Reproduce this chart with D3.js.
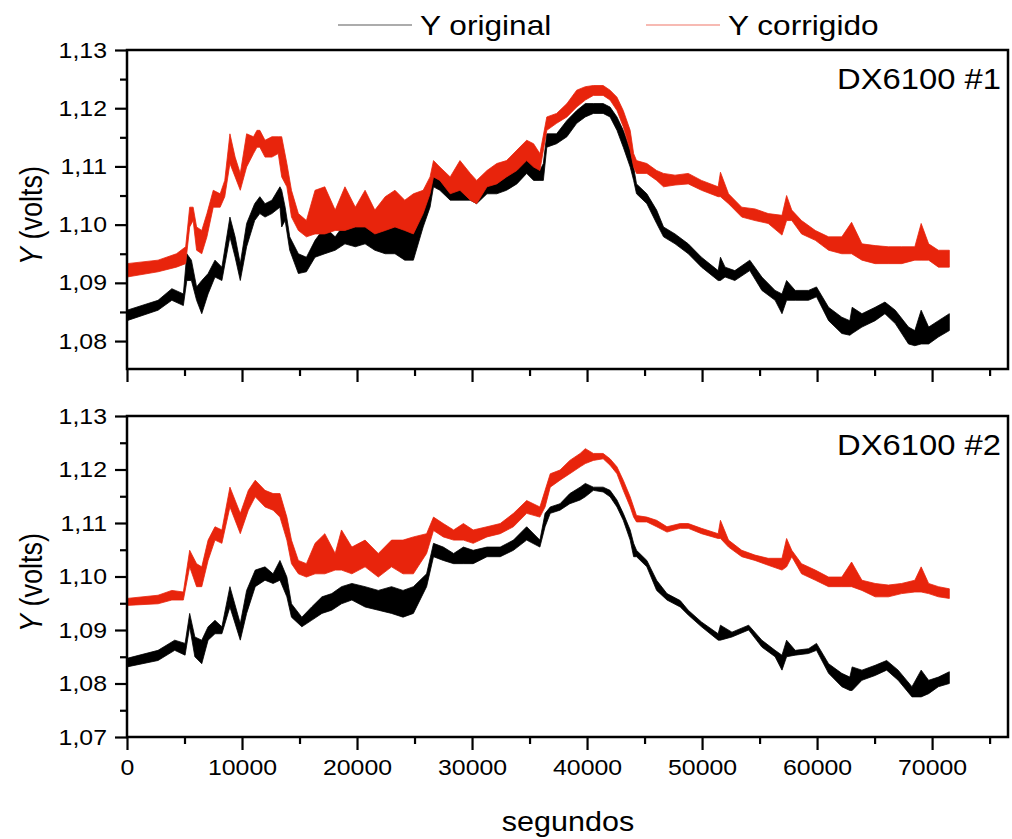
<!DOCTYPE html>
<html>
<head>
<meta charset="utf-8">
<script src="https://cdn.jsdelivr.net/npm/d3@7"></script>
<style>
  body { margin: 0; background: #fff; }
  svg text { font-family: "Liberation Sans", Arial, sans-serif; fill: #000; }
</style>
</head>
<body>
<script>
// envelope of each noisy trace: [segundos, lower Y, upper Y]
const orig1 = [[0,1.0835,1.0853],[2700,1.0853,1.0870],[3900,1.0870,1.0890],[4900,1.0861,1.0881],[5200,1.0904,1.0950],[5600,1.0904,1.0939],[6050,1.0870,1.0893],[6500,1.0847,1.0904],[7050,1.0881,1.0916],[7650,1.0910,1.0939],[8250,1.0904,1.0927],[8950,1.0979,1.1013],[9400,1.0944,1.0979],[9850,1.0904,1.0933],[10400,1.0962,1.1002],[11100,1.1007,1.1036],[11550,1.1019,1.1048],[12000,1.1013,1.1036],[12600,1.1019,1.1042],[13300,1.1030,1.1065],[13450,1.0996,1.1059],[13750,1.1007,1.1030],[14150,1.0956,1.0979],[14900,1.0916,1.0950],[15600,1.0919,1.0944],[16350,1.0944,1.0973],[17200,1.0950,1.0996],[18100,1.0956,1.0979],[18950,1.0967,1.1002],[19850,1.0962,1.0996],[20700,1.0967,1.1002],[21550,1.0956,1.0990],[22450,1.0950,1.0996],[23300,1.0950,1.1002],[24150,1.0939,1.0996],[24900,1.0939,1.1019],[25750,1.0996,1.1030],[26350,1.1030,1.1059],[26650,1.1065,1.1088],[27200,1.1059,1.1082],[28100,1.1042,1.1059],[28950,1.1042,1.1076],[29850,1.1042,1.1065],[30400,1.1036,1.1059],[31300,1.1053,1.1076],[32150,1.1053,1.1076],[33000,1.1059,1.1088],[33900,1.1070,1.1105],[34750,1.1088,1.1122],[35350,1.1076,1.1122],[35900,1.1076,1.1093],[36200,1.1076,1.1105],[36500,1.1133,1.1156],[37350,1.1139,1.1156],[38250,1.1151,1.1179],[39100,1.1174,1.1196],[39850,1.1185,1.1208],[40550,1.1191,1.1208],[41400,1.1191,1.1208],[42000,1.1185,1.1202],[42600,1.1162,1.1185],[43150,1.1133,1.1162],[43750,1.1099,1.1128],[44050,1.1076,1.1099],[44300,1.1053,1.1070],[45200,1.1036,1.1053],[46050,1.1002,1.1025],[46650,1.0979,1.0996],[47650,1.0967,1.0984],[48800,1.0950,1.0967],[49950,1.0927,1.0944],[51400,1.0904,1.0921],[51600,1.0904,1.0944],[52000,1.0910,1.0927],[52850,1.0904,1.0921],[54150,1.0921,1.0939],[55200,1.0887,1.0910],[56350,1.0870,1.0887],[56950,1.0847,1.0881],[57350,1.0870,1.0904],[58100,1.0870,1.0887],[59250,1.0870,1.0887],[59950,1.0876,1.0893],[61000,1.0835,1.0858],[62150,1.0813,1.0841],[62850,1.0810,1.0835],[63050,1.0813,1.0858],[63900,1.0824,1.0847],[65050,1.0835,1.0858],[65900,1.0847,1.0867],[66800,1.0830,1.0853],[67950,1.0795,1.0824],[68500,1.0792,1.0818],[69050,1.0795,1.0853],[69700,1.0795,1.0824],[70550,1.0807,1.0835],[71500,1.0818,1.0847]];

const corr1 = [[0,1.0910,1.0933],[2700,1.0919,1.0939],[4300,1.0927,1.0950],[5100,1.0933,1.0962],[5450,1.0996,1.1030],[5750,1.1007,1.1030],[6050,1.0956,1.0996],[6500,1.0950,1.0990],[6950,1.0979,1.1019],[7500,1.1030,1.1059],[8100,1.1030,1.1053],[8500,1.1048,1.1076],[8950,1.1105,1.1156],[9400,1.1082,1.1116],[9850,1.1059,1.1088],[10400,1.1099,1.1156],[11000,1.1122,1.1151],[11300,1.1133,1.1162],[11550,1.1133,1.1162],[12000,1.1116,1.1145],[12600,1.1116,1.1151],[13150,1.1122,1.1151],[13450,1.1082,1.1151],[13900,1.1065,1.1105],[14300,1.1013,1.1059],[14900,1.0990,1.1019],[15600,1.0979,1.1007],[16350,1.0984,1.1059],[17200,1.0984,1.1065],[18100,1.0990,1.1025],[18950,1.0990,1.1065],[19850,1.0996,1.1030],[20700,1.0996,1.1059],[21550,1.0984,1.1025],[22450,1.0990,1.1048],[23300,1.0996,1.1059],[24150,1.0990,1.1042],[24900,1.0984,1.1053],[25750,1.1019,1.1059],[26350,1.1053,1.1082],[26650,1.1082,1.1110],[27200,1.1076,1.1099],[28100,1.1053,1.1082],[28950,1.1059,1.1110],[29850,1.1042,1.1088],[30400,1.1036,1.1076],[31300,1.1065,1.1093],[32150,1.1070,1.1105],[33000,1.1082,1.1110],[33900,1.1093,1.1128],[34750,1.1110,1.1145],[35350,1.1099,1.1139],[35900,1.1093,1.1122],[36500,1.1162,1.1185],[37350,1.1174,1.1191],[38250,1.1185,1.1208],[39100,1.1202,1.1231],[39850,1.1214,1.1237],[40550,1.1222,1.1239],[41400,1.1222,1.1239],[42000,1.1214,1.1231],[42600,1.1196,1.1219],[43150,1.1168,1.1196],[43750,1.1128,1.1162],[44050,1.1099,1.1122],[44300,1.1088,1.1110],[45200,1.1088,1.1105],[46050,1.1076,1.1093],[46650,1.1065,1.1088],[47650,1.1068,1.1085],[48800,1.1070,1.1088],[49950,1.1059,1.1076],[51400,1.1048,1.1065],[51600,1.1048,1.1090],[52300,1.1036,1.1053],[53450,1.1013,1.1030],[54600,1.1007,1.1027],[55750,1.1002,1.1019],[56950,1.0982,1.1016],[57350,1.1007,1.1050],[57800,1.1007,1.1025],[58650,1.0984,1.1007],[59850,1.0973,1.0990],[61000,1.0956,1.0979],[62150,1.0950,1.0979],[63000,1.0950,1.1004],[63900,1.0939,1.0967],[65050,1.0933,1.0964],[66200,1.0933,1.0962],[67350,1.0933,1.0962],[68500,1.0939,1.0962],[69050,1.0939,1.1002],[69700,1.0939,1.0967],[70550,1.0927,1.0956],[71500,1.0927,1.0956]];

const orig2 = [[0,1.0831,1.0847],[2700,1.0843,1.0862],[4150,1.0862,1.0881],[5050,1.0853,1.0875],[5450,1.0906,1.0931],[5900,1.0850,1.0887],[6500,1.0837,1.0881],[7050,1.0881,1.0906],[7650,1.0893,1.0918],[8250,1.0893,1.0906],[8950,1.0943,1.0981],[9850,1.0881,1.0912],[10400,1.0931,1.0974],[11150,1.0981,1.1012],[12000,1.0993,1.1018],[12700,1.0987,1.1005],[13300,1.0993,1.1030],[13900,1.0962,1.0999],[14300,1.0924,1.0949],[15200,1.0906,1.0924],[16050,1.0918,1.0943],[16950,1.0931,1.0962],[17800,1.0937,1.0968],[18650,1.0949,1.0981],[19550,1.0956,1.0987],[20700,1.0943,1.0981],[21850,1.0937,1.0974],[23000,1.0931,1.0981],[24000,1.0924,1.0974],[24900,1.0931,1.0981],[26050,1.0981,1.1005],[26650,1.1037,1.1062],[27500,1.1030,1.1055],[28400,1.1024,1.1043],[29250,1.1024,1.1055],[30100,1.1024,1.1049],[31300,1.1037,1.1055],[32450,1.1037,1.1055],[33600,1.1049,1.1068],[34750,1.1068,1.1093],[35900,1.1055,1.1068],[36350,1.1093,1.1118],[36800,1.1118,1.1130],[37650,1.1124,1.1136],[38500,1.1136,1.1155],[39400,1.1143,1.1167],[39850,1.1149,1.1174],[40550,1.1161,1.1167],[41400,1.1158,1.1167],[42000,1.1149,1.1161],[42600,1.1130,1.1143],[43150,1.1105,1.1118],[43750,1.1068,1.1087],[44050,1.1037,1.1062],[44300,1.1037,1.1049],[45200,1.1018,1.1030],[46050,1.0974,1.0993],[46950,1.0956,1.0968],[48100,1.0943,1.0955],[48800,1.0928,1.0937],[49950,1.0906,1.0915],[51400,1.0881,1.0893],[51600,1.0881,1.0909],[52600,1.0887,1.0896],[54050,1.0900,1.0909],[55200,1.0868,1.0881],[56350,1.0850,1.0862],[56950,1.0825,1.0853],[57350,1.0850,1.0881],[58100,1.0853,1.0862],[59250,1.0856,1.0865],[59950,1.0862,1.0875],[61000,1.0819,1.0837],[62150,1.0794,1.0819],[62850,1.0787,1.0812],[63050,1.0787,1.0831],[63900,1.0806,1.0825],[65050,1.0815,1.0834],[66050,1.0825,1.0843],[67050,1.0806,1.0825],[68250,1.0775,1.0794],[69050,1.0775,1.0825],[69700,1.0781,1.0806],[70550,1.0794,1.0812],[71500,1.0800,1.0822]];

const corr2 = [[0,1.0946,1.0959],[2700,1.0949,1.0965],[3900,1.0956,1.0974],[4900,1.0956,1.0971],[5450,1.1018,1.1049],[6050,1.0981,1.1024],[6500,1.0981,1.1018],[7050,1.1030,1.1068],[7650,1.1068,1.1093],[8250,1.1062,1.1087],[8950,1.1130,1.1167],[9850,1.1080,1.1118],[10550,1.1124,1.1161],[11150,1.1149,1.1180],[12000,1.1130,1.1161],[12700,1.1124,1.1155],[13300,1.1111,1.1155],[13900,1.1068,1.1111],[14300,1.1024,1.1068],[14900,1.1005,1.1030],[15600,1.0999,1.1024],[16350,1.1005,1.1062],[17200,1.1005,1.1080],[18100,1.1012,1.1043],[18650,1.1012,1.1087],[19550,1.1005,1.1055],[20700,1.1018,1.1068],[21850,1.0999,1.1043],[23000,1.1018,1.1068],[24000,1.1005,1.1068],[24900,1.1005,1.1074],[26050,1.1043,1.1080],[26650,1.1086,1.1111],[27500,1.1074,1.1099],[28400,1.1068,1.1087],[29250,1.1068,1.1099],[30100,1.1062,1.1087],[31300,1.1074,1.1093],[32450,1.1080,1.1099],[33600,1.1093,1.1118],[34750,1.1118,1.1142],[35900,1.1111,1.1130],[36350,1.1130,1.1161],[36800,1.1167,1.1192],[37650,1.1180,1.1199],[38500,1.1192,1.1217],[39400,1.1205,1.1230],[39850,1.1211,1.1239],[40550,1.1217,1.1230],[41400,1.1220,1.1230],[42000,1.1208,1.1220],[42600,1.1192,1.1205],[43150,1.1161,1.1180],[43750,1.1130,1.1149],[44050,1.1111,1.1130],[44300,1.1102,1.1114],[45200,1.1102,1.1111],[46050,1.1093,1.1105],[46950,1.1083,1.1093],[48100,1.1090,1.1099],[48800,1.1090,1.1099],[49950,1.1080,1.1090],[51400,1.1071,1.1080],[51600,1.1071,1.1105],[52300,1.1055,1.1068],[53450,1.1037,1.1049],[54600,1.1030,1.1040],[55750,1.1021,1.1034],[56950,1.1012,1.1034],[57350,1.1018,1.1071],[57800,1.1037,1.1049],[58650,1.1005,1.1024],[59850,1.0993,1.1012],[61000,1.0981,1.0999],[62150,1.0981,1.0999],[63000,1.0981,1.1027],[63900,1.0974,1.0993],[65050,1.0962,1.0987],[66200,1.0962,1.0984],[67350,1.0968,1.0987],[68500,1.0971,1.0993],[69050,1.0971,1.1018],[69700,1.0968,1.0987],[70550,1.0962,1.0981],[71500,1.0959,1.0977]];

const xMajor = [0,10000,20000,30000,40000,50000,60000,70000];
const xMinor = [5000,15000,25000,35000,45000,55000,65000,75000];
const yMajor1 = [1.08,1.09,1.10,1.11,1.12,1.13];
const yMinor1 = [1.085,1.095,1.105,1.115,1.125];
const yMajor2 = [1.07,1.08,1.09,1.10,1.11,1.12,1.13];
const yMinor2 = [1.075,1.085,1.095,1.105,1.115,1.125];
const seriesNames = ["Y original","Y corrigido"];

const W = 1012, H = 839;
const RED = "#e8240c";
const SX = 1.13; // the text in the picture is a little wider than Arial

const svg = d3.select("body").append("svg")
  .attr("width", W)
  .attr("height", H);

const x = d3.scaleLinear().domain([0, 76600]).range([127, 1008]);
const fmt = d => d3.format(".2f")(d).replace(".", ",");

// stretched text helper
function label(parent, tx, ty, size, anchor) {
  return parent.append("text")
    .attr("transform", `translate(${tx},${ty}) scale(${SX},1)`)
    .attr("text-anchor", anchor)
    .style("font-size", size + "px");
}

const panels = [
  {top: 50, bottom: 369, domain: [1.0752, 1.13], major: yMajor1, minor: yMinor1, orig: orig1, corr: corr1, label: "DX6100 #1", labels: false},
  {top: 416, bottom: 737, domain: [1.07, 1.13], major: yMajor2, minor: yMinor2, orig: orig2, corr: corr2, label: "DX6100 #2", labels: true}
];

panels.forEach(p => {
  const y = d3.scaleLinear().domain(p.domain).range([p.bottom, p.top]);
  const g = svg.append("g");

  const area = d3.area()
    .x(d => x(d[0]))
    .y0(d => y(d[1]))
    .y1(d => y(d[2]));

  // black first, red on top
  g.append("path").datum(p.orig)
    .attr("d", area)
    .attr("fill", "#000")
    .attr("stroke", "#000")
    .attr("stroke-width", 0.8);
  g.append("path").datum(p.corr)
    .attr("d", area)
    .attr("fill", RED)
    .attr("stroke", RED)
    .attr("stroke-width", 0.8);

  // y axis
  const ya = g.append("g").attr("transform", `translate(${x(0)},0)`)
    .call(d3.axisLeft(y).tickValues(p.major).tickSize(12).tickFormat(fmt));
  ya.select(".domain").remove();
  ya.selectAll("text")
    .style("font-size", "22px")
    .attr("x", -20 / SX)
    .attr("transform", `scale(${SX},1)`);
  const ym = g.append("g").attr("transform", `translate(${x(0)},0)`)
    .call(d3.axisLeft(y).tickValues(p.minor).tickSize(7).tickFormat(""));
  ym.select(".domain").remove();

  // x axis
  const xa = g.append("g").attr("transform", `translate(0,${p.bottom})`)
    .call(d3.axisBottom(x).tickValues(xMajor).tickSize(13).tickPadding(9).tickFormat(p.labels ? d3.format("d") : ""));
  xa.select(".domain").remove();
  xa.selectAll("text")
    .style("font-size", "22px")
    .attr("transform", `scale(${SX},1)`);
  const xm = g.append("g").attr("transform", `translate(0,${p.bottom})`)
    .call(d3.axisBottom(x).tickValues(xMinor).tickSize(7).tickFormat(""));
  xm.select(".domain").remove();

  g.selectAll(".tick line").attr("stroke", "#000").attr("stroke-width", 2.2);

  // frame
  g.append("rect")
    .attr("x", x(0)).attr("y", p.top)
    .attr("width", x(76600) - x(0)).attr("height", p.bottom - p.top)
    .attr("fill", "none").attr("stroke", "#000").attr("stroke-width", 2.5);

  label(g, 1001, p.top + 39, 29, "end").text(p.label);

  const yl = g.append("text")
    .attr("transform", `translate(42,${(p.top + p.bottom) / 2 + 6}) rotate(-90) scale(1,${SX})`)
    .attr("text-anchor", "middle")
    .style("font-size", "27px");
  yl.append("tspan").style("font-style", "italic").text("Y");
  yl.append("tspan").text(" (volts)");
});

label(svg, 568, 831, 27, "middle").text("segundos");

// legend
const legend = [{name: seriesNames[0], color: "#909090", x0: 338}, {name: seriesNames[1], color: "#f4a39a", x0: 646}];
legend.forEach(l => {
  svg.append("line")
    .attr("x1", l.x0).attr("x2", l.x0 + 74)
    .attr("y1", 25).attr("y2", 25)
    .attr("stroke", l.color).attr("stroke-width", 1.5);
  label(svg, l.x0 + 82, 35, 28, "start").text(l.name);
});
</script>
</body>
</html>
